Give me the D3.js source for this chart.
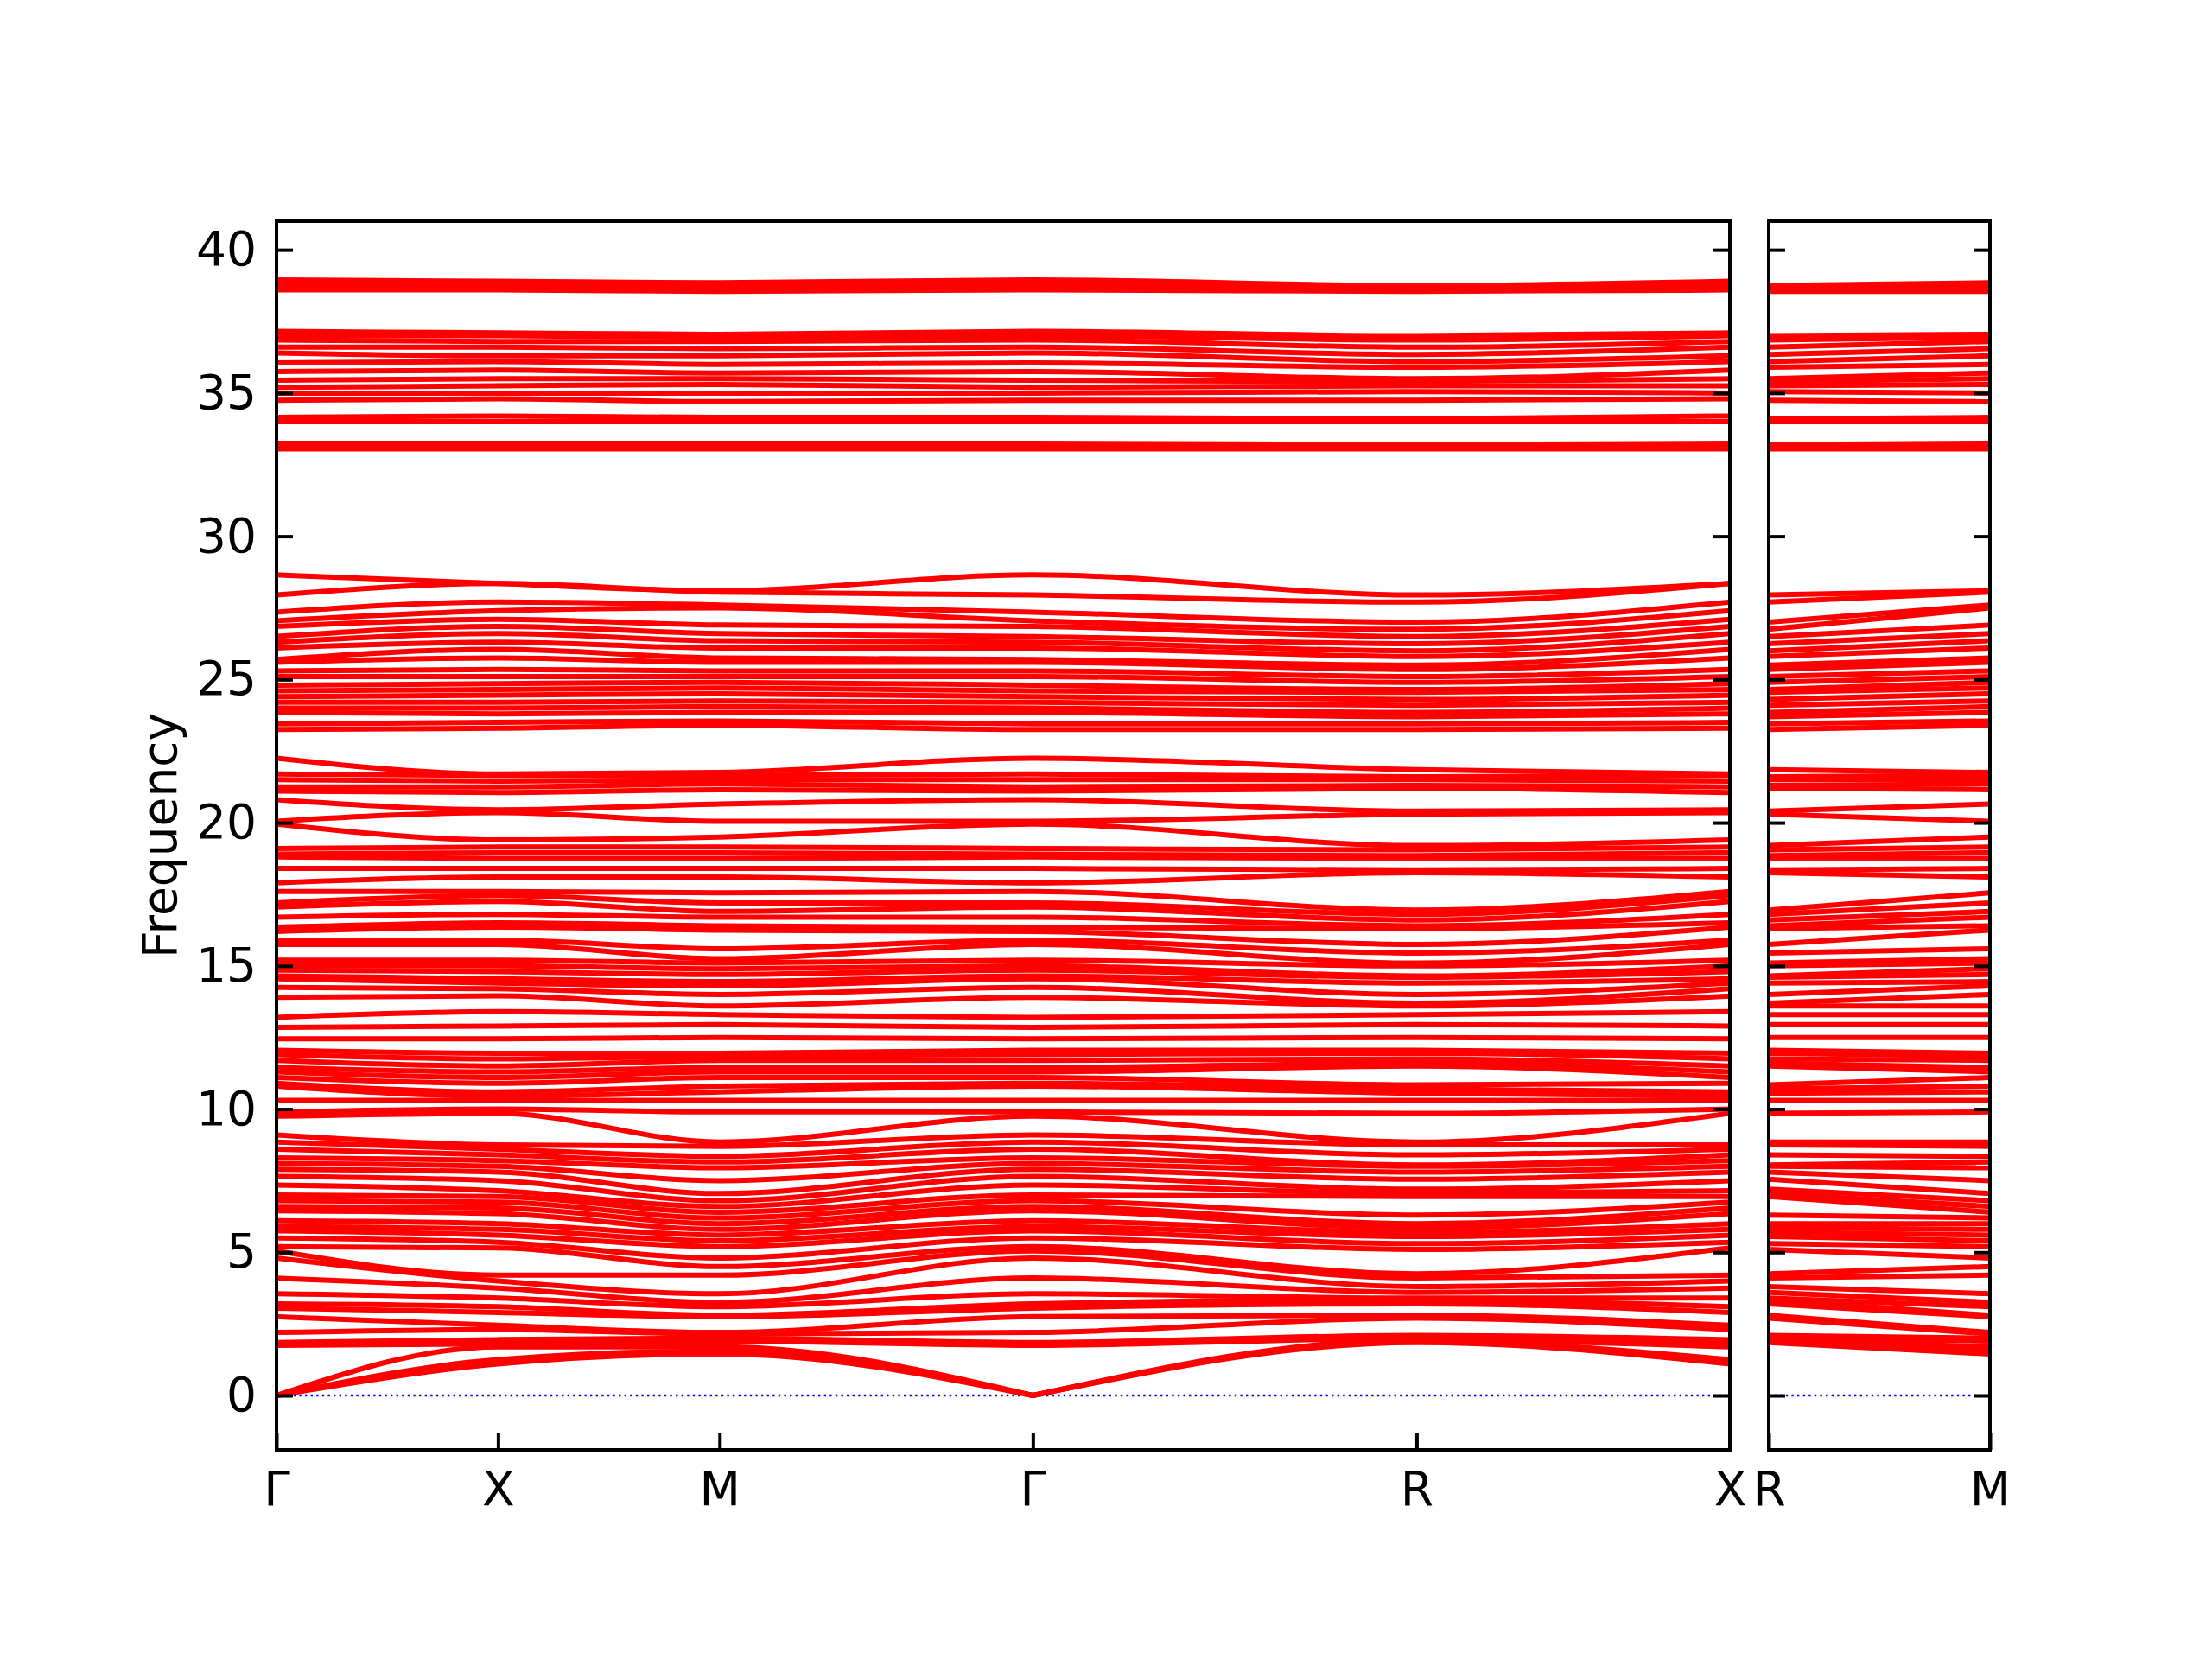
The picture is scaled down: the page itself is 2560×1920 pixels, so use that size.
<!DOCTYPE html>
<html>
<head>
<meta charset="utf-8">
<script src="https://cdnjs.cloudflare.com/ajax/libs/d3/7.8.5/d3.min.js"></script>
<style>
  body { margin: 0; background: #fff; }
  text { font-family: "DejaVu Sans", sans-serif; }
</style>
</head>
<body>
<svg width="2560" height="1920"></svg>
<script>
// high symmetry path, panel 1 and panel 2
var pathLabels = ["Γ", "X", "M", "Γ", "R", "X"];
var pathLengths = [1, 1, Math.SQRT2, Math.sqrt(3), Math.SQRT2];
var path2Labels = ["R", "M"];
var path2Lengths = [1];
var yTicks = [0, 5, 10, 15, 20, 25, 30, 35, 40];

// band frequencies at each point, sorted (band i = i-th lowest)
var freqGamma = [
  0, 0, 0, 1.75, 1.85, 2.2, 2.75, 3.05, 3.2, 3.55, 4.1,
  4.8, 5.05, 5.2, 5.5, 5.75, 5.9, 6.1, 6.45, 6.6, 6.8, 7.0, 7.35, 7.65, 7.9, 8.1, 8.3, 8.6, 8.85, 9.1, 9.75, 9.9,
  10.3, 10.8, 10.9, 11.1, 11.3, 11.45, 11.7, 11.9, 12.05, 12.45,
  12.85, 13.2, 13.9, 14.25, 14.55, 14.65, 14.85, 15.0, 15.2, 15.75, 15.9, 16.2, 16.35, 16.7, 17.05, 17.2, 17.6, 17.9, 18.4,
  18.8, 18.9, 19.1, 19.95, 20.05, 20.8, 21.1, 21.25, 21.5, 21.7, 22.25,
  23.25, 23.45, 23.85, 24.0, 24.2, 24.4, 24.6, 24.8, 25.1, 25.3, 25.6, 25.7, 26.1, 26.3, 26.5, 26.85, 27.05, 27.35, 27.95, 28.65,
  33.05, 33.15, 33.25, 34.0, 34.15, 34.75, 35.0, 35.2, 35.45, 35.75, 36.05, 36.4, 36.6, 36.85, 37.0, 37.15,
  38.6, 38.7, 38.85, 38.95
];
var freqX = [
  1.1, 1.25, 1.7, 1.8, 1.95, 2.3, 2.45, 2.9, 3.1, 3.4, 3.75,
  4.0, 4.2, 5.15, 5.35, 5.6, 5.8, 6.0, 6.35, 6.55, 6.75, 6.95, 7.15, 7.5, 7.8, 8.0, 8.2, 8.4, 8.6, 8.75, 9.85, 10.0,
  10.3, 10.45, 10.6, 10.9, 11.1, 11.3, 11.5, 11.75, 11.95, 12.45,
  12.9, 13.4, 13.95, 14.2, 14.4, 14.55, 14.8, 15.0, 15.2, 15.75, 15.9, 16.35, 16.5, 16.8, 17.25, 17.45, 17.6, 18.1, 18.4,
  18.75, 18.95, 19.15, 19.4, 20.35, 20.45, 21.05, 21.25, 21.45, 21.65, 21.7,
  23.3, 23.5, 23.8, 24.0, 24.2, 24.45, 24.65, 24.85, 25.1, 25.35, 25.75, 26.05, 26.3, 26.6, 26.85, 27.1, 27.4, 27.7, 28.35, 28.35,
  33.05, 33.15, 33.25, 34.0, 34.2, 34.8, 35.0, 35.25, 35.5, 35.8, 36.1, 36.3, 36.6, 36.8, 37.0, 37.1,
  38.6, 38.7, 38.8, 38.9
];
var freqM = [
  1.45, 1.55, 1.7, 1.9, 2.0, 2.15, 2.2, 2.75, 2.8, 3.1, 3.25,
  3.55, 4.2, 4.5, 4.8, 5.2, 5.4, 5.6, 5.8, 6.0, 6.2, 6.4, 6.6, 6.8, 7.05, 7.5, 7.95, 8.15, 8.35, 8.7, 8.85, 9.9,
  10.3, 10.6, 10.8, 11.1, 11.3, 11.45, 11.7, 11.85, 11.95, 12.5,
  12.95, 13.3, 13.6, 14.0, 14.3, 14.45, 14.7, 14.9, 15.1, 15.25, 15.6, 16.25, 16.4, 16.7, 16.9, 17.2, 17.55, 18.1, 18.4,
  18.75, 18.95, 19.15, 19.5, 20.05, 20.65, 21.15, 21.35, 21.5, 21.65, 21.75,
  23.4, 23.55, 23.85, 24.05, 24.25, 24.5, 24.7, 24.9, 25.1, 25.3, 25.6, 25.75, 26.1, 26.35, 26.6, 26.9, 27.5, 27.6, 28.05, 28.1,
  33.05, 33.15, 33.25, 34.0, 34.15, 34.7, 35.0, 35.3, 35.5, 35.7, 36.0, 36.3, 36.55, 36.8, 36.95, 37.05,
  38.55, 38.65, 38.75, 38.85
];
var freqR = [
  1.85, 1.9, 1.95, 2.0, 2.1, 2.7, 2.8, 3.2, 3.35, 3.4, 3.6,
  3.8, 4.1, 4.25, 5.1, 5.3, 5.55, 5.7, 5.85, 6.0, 6.3, 6.95, 7.05, 7.2, 7.55, 7.8, 8.0, 8.05, 8.4, 8.75, 8.85, 9.85,
  10.3, 10.55, 10.7, 10.85, 11.5, 11.6, 11.75, 11.95, 12.05, 12.5,
  12.95, 13.3, 13.6, 13.7, 14.0, 14.4, 14.6, 14.65, 15.0, 15.1, 15.45, 15.75, 16.3, 16.4, 16.6, 16.8, 16.95, 18.25, 18.35,
  18.75, 18.85, 19.05, 19.2, 20.3, 20.4, 21.2, 21.3, 21.5, 21.6, 21.85,
  23.25, 23.45, 23.7, 23.85, 24.1, 24.3, 24.55, 24.65, 24.9, 25.1, 25.35, 25.5, 25.8, 26.0, 26.25, 26.5, 26.75, 27.0, 27.7, 27.95,
  33.05, 33.15, 33.2, 34.0, 34.1, 34.75, 35.05, 35.25, 35.4, 35.5, 35.9, 36.1, 36.35, 36.6, 36.85, 37.0,
  38.55, 38.6, 38.7, 38.75
];

var freqAt = { "Γ": freqGamma, "X": freqX, "M": freqM, "R": freqR };
var nBands = d3.min([freqGamma.length, freqX.length, freqM.length, freqR.length]);

var svg = d3.select("svg");
var plotTop = 256, plotBottom = 1678;
var panel1 = { left: 320, right: 2002 };
var panel2 = { left: 2047, right: 2303 };

function cumulative(lengths) {
  var out = [0];
  lengths.forEach(function(l) { out.push(out[out.length - 1] + l); });
  return out;
}
var pos1 = cumulative(pathLengths);
var pos2 = cumulative(path2Lengths);

var y = d3.scaleLinear().domain([-1.9, 41.0]).range([plotBottom, plotTop]);
var x1 = d3.scaleLinear().domain([0, pos1[pos1.length - 1]]).range([panel1.left, panel1.right]);
var x2 = d3.scaleLinear().domain([0, pos2[pos2.length - 1]]).range([panel2.left, panel2.right]);

var defs = svg.append("defs");
defs.append("clipPath").attr("id", "clip1").append("rect")
  .attr("x", panel1.left).attr("y", plotTop).attr("width", panel1.right - panel1.left).attr("height", plotBottom - plotTop);
defs.append("clipPath").attr("id", "clip2").append("rect")
  .attr("x", panel2.left).attr("y", plotTop).attr("width", panel2.right - panel2.left).attr("height", plotBottom - plotTop);

// split a band at zero frequency so acoustic branches keep their V shape
function pieces(pts) {
  var out = [], cur = [];
  pts.forEach(function(p, j) {
    cur.push(p);
    if (p.f === 0 && j > 0 && j < pts.length - 1) {
      out.push(cur);
      cur = [p];
    }
  });
  out.push(cur);
  return out;
}

function drawPanel(labels, pos, x, clipId, showLabels) {
  var g = svg.append("g").attr("clip-path", "url(#" + clipId + ")");

  g.append("line")
    .attr("x1", x.range()[0]).attr("x2", x.range()[1])
    .attr("y1", y(0)).attr("y2", y(0))
    .attr("stroke", "#0000ff")
    .attr("stroke-width", 2.4)
    .attr("stroke-dasharray", "2.4 4.2");

  var line = d3.line()
    .x(function(d) { return x(d.k); })
    .y(function(d) { return y(d.f); })
    .curve(d3.curveMonotoneX);

  var segs = [];
  for (var i = 0; i < nBands; i++) {
    var pts = labels.map(function(lab, j) { return { k: pos[j], f: freqAt[lab][i] }; });
    pieces(pts).forEach(function(p) { segs.push(p); });
  }

  g.selectAll("path.band")
    .data(segs)
    .enter().append("path")
    .attr("class", "band")
    .attr("d", line)
    .attr("fill", "none")
    .attr("stroke", "#ff0000")
    .attr("stroke-width", 6);

  // axes, ticks pointing inward
  var left = d3.axisLeft(y).tickValues(yTicks).tickSize(-19).tickSizeOuter(0).tickPadding(23);
  var right = d3.axisRight(y).tickValues(yTicks).tickSize(-19).tickSizeOuter(0).tickFormat("");
  var bottomAxis = d3.axisBottom(x).tickValues(pos).tickSize(-19).tickSizeOuter(0).tickPadding(25)
    .tickFormat(function(d, i) { return labels[i]; });

  var gl = svg.append("g").attr("transform", "translate(" + x.range()[0] + ",0)").call(left);
  if (!showLabels) gl.selectAll("text").remove();
  svg.append("g").attr("transform", "translate(" + x.range()[1] + ",0)").call(right);
  svg.append("g").attr("transform", "translate(0," + plotBottom + ")").call(bottomAxis);

  svg.append("rect")
    .attr("x", x.range()[0]).attr("y", plotTop)
    .attr("width", x.range()[1] - x.range()[0]).attr("height", plotBottom - plotTop)
    .attr("fill", "none")
    .attr("stroke", "#000")
    .attr("stroke-width", 4);
}

drawPanel(pathLabels, pos1, x1, "clip1", true);
drawPanel(path2Labels, pos2, x2, "clip2", false);

svg.selectAll(".domain").remove();
svg.selectAll(".tick line").attr("stroke", "#000").attr("stroke-width", 4);
svg.selectAll(".tick text")
  .style("font-family", "DejaVu Sans")
  .style("font-size", "55px")
  .attr("fill", "#000");

svg.append("text")
  .attr("transform", "translate(184," + ((plotTop + plotBottom) / 2) + ") rotate(-90)")
  .attr("text-anchor", "middle")
  .attr("dy", "0.36em")
  .style("font-size", "55px")
  .text("Frequency");
</script>
</body>
</html>
